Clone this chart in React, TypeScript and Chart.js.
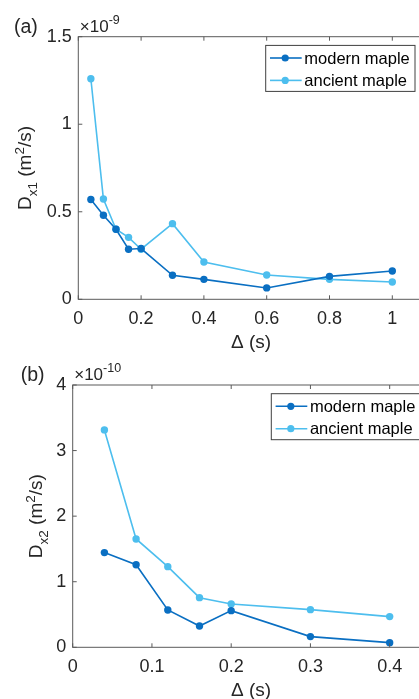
import { useEffect, useRef } from "react";
import { Chart, registerables } from "chart.js";

Chart.register(...registerables);

const FONT = "'Liberation Sans', Arial, Helvetica, sans-serif";
const AXIS_COLOR = "#5a5a5a";
const TEXT_COLOR = "#262626";

const seriesNames = ["modern maple", "ancient maple"];
const seriesColors = ["#0a6fc2", "#4dbeee"];

// Panel (a): Dx1 in units of 1e-9 m^2/s
const deltaA = [0.04, 0.08, 0.12, 0.16, 0.2, 0.3, 0.4, 0.6, 0.8, 1.0];
const modernA = [0.57, 0.48, 0.4, 0.286, 0.29, 0.137, 0.114, 0.065, 0.131, 0.162];
const ancientA = [1.26, 0.573, 0.4, 0.354, 0.286, 0.432, 0.213, 0.139, 0.114, 0.099];
const xTicksA = [0, 0.2, 0.4, 0.6, 0.8, 1];
const yTicksA = [0, 0.5, 1, 1.5];

// Panel (b): Dx2 in units of 1e-10 m^2/s
const deltaB = [0.04, 0.08, 0.12, 0.16, 0.2, 0.3, 0.4];
const modernB = [1.444, 1.26, 0.569, 0.325, 0.559, 0.163, 0.071];
const ancientB = [3.315, 1.652, 1.23, 0.757, 0.661, 0.574, 0.468];
const xTicksB = [0, 0.1, 0.2, 0.3, 0.4];
const yTicksB = [0, 1, 2, 3, 4];

type Seg = { text: string; size: number; dy: number };

function drawRich(ctx: CanvasRenderingContext2D, segs: Seg[], x: number, y: number, centered: boolean) {
  ctx.textAlign = "left";
  ctx.textBaseline = "alphabetic";
  const widths = segs.map((s) => {
    ctx.font = `${s.size}px ${FONT}`;
    return ctx.measureText(s.text).width;
  });
  const total = widths.reduce((a, b) => a + b, 0);
  let cx = centered ? x - total / 2 : x;
  segs.forEach((s, i) => {
    ctx.font = `${s.size}px ${FONT}`;
    ctx.fillText(s.text, cx, y + s.dy);
    cx += widths[i];
  });
}

type PanelOpts = {
  label: string;
  labelX: number;
  expo: string;
  sub: string;
  yTitleX: number;
  xTickValues: number[];
  yTickValues: number[];
};

const decorPlugin = {
  id: "panelDecor",
  afterDraw(chart: any) {
    const o: PanelOpts = chart.options.plugins.panelDecor;
    const ctx: CanvasRenderingContext2D = chart.ctx;
    const { left, right, top, bottom } = chart.chartArea;
    const xs = chart.scales.x;
    const ys = chart.scales.y;
    ctx.save();

    // axes box with inward ticks
    ctx.strokeStyle = AXIS_COLOR;
    ctx.lineWidth = 1;
    ctx.strokeRect(left, top, right - left, bottom - top);
    const tl = 4;
    ctx.beginPath();
    o.xTickValues.forEach((v) => {
      const px = xs.getPixelForValue(v);
      ctx.moveTo(px, bottom);
      ctx.lineTo(px, bottom - tl);
      ctx.moveTo(px, top);
      ctx.lineTo(px, top + tl);
    });
    o.yTickValues.forEach((v) => {
      const py = ys.getPixelForValue(v);
      ctx.moveTo(left, py);
      ctx.lineTo(left + tl, py);
      ctx.moveTo(right, py);
      ctx.lineTo(right - tl, py);
    });
    ctx.stroke();

    ctx.fillStyle = TEXT_COLOR;

    // panel label
    ctx.font = `19.5px ${FONT}`;
    ctx.textAlign = "left";
    ctx.textBaseline = "alphabetic";
    ctx.fillText(o.label, o.labelX, top - 4);

    // exponent multiplier
    drawRich(
      ctx,
      [
        { text: "\u00d710", size: 17, dy: 0 },
        { text: o.expo, size: 12.5, dy: -8.5 },
      ],
      left + 1.5,
      top - 4.6,
      false
    );

    // x title
    ctx.font = `19px ${FONT}`;
    ctx.textAlign = "center";
    ctx.fillText("\u0394 (s)", (left + right) / 2, bottom + 48.5);

    // y title (rotated)
    ctx.save();
    ctx.translate(o.yTitleX, (top + bottom) / 2);
    ctx.rotate(-Math.PI / 2);
    drawRich(
      ctx,
      [
        { text: "D", size: 19, dy: 0 },
        { text: o.sub, size: 13.5, dy: 5.5 },
        { text: " (m", size: 19, dy: 0 },
        { text: "2", size: 13.5, dy: -7.5 },
        { text: "/s)", size: 19, dy: 0 },
      ],
      0,
      0,
      true
    );
    ctx.restore();

    // legend
    const lw = 149.3;
    const lh = 46;
    const lx = right - 8.7 - lw;
    const ly = top + 8.7;
    ctx.fillStyle = "#ffffff";
    ctx.fillRect(lx, ly, lw, lh);
    ctx.strokeStyle = "#404040";
    ctx.lineWidth = 1;
    ctx.strokeRect(lx, ly, lw, lh);
    chart.data.datasets.forEach((ds: any, i: number) => {
      const cy = ly + 12.6 + i * 22.4;
      ctx.strokeStyle = ds.borderColor;
      ctx.lineWidth = 1.6;
      ctx.beginPath();
      ctx.moveTo(lx + 4.3, cy);
      ctx.lineTo(lx + 36, cy);
      ctx.stroke();
      ctx.fillStyle = ds.borderColor;
      ctx.beginPath();
      ctx.arc(lx + 19.5, cy, 3.6, 0, Math.PI * 2);
      ctx.fill();
      ctx.fillStyle = "#000000";
      ctx.font = `16.5px ${FONT}`;
      ctx.textAlign = "left";
      ctx.textBaseline = "middle";
      ctx.fillText(ds.label, lx + 38.6, cy + 1);
    });

    ctx.restore();
  },
};

type PanelProps = {
  top: number;
  height: number;
  areaLeft: number;
  areaTop: number;
  areaRight: number;
  areaBottom: number;
  delta: number[];
  modern: number[];
  ancient: number[];
  xMax: number;
  yMax: number;
  xTickValues: number[];
  yTickValues: number[];
  label: string;
  labelX: number;
  expo: string;
  sub: string;
  yTitleX: number;
};

const CANVAS_W = 440;
const X_AXIS_H = 40;

function Panel(p: PanelProps) {
  const ref = useRef<HTMLCanvasElement>(null);

  useEffect(() => {
    if (!ref.current) return;
    const mk = (vals: number[]) => p.delta.map((x, i) => ({ x, y: vals[i] }));
    const chart = new Chart(ref.current, {
      type: "line",
      data: {
        datasets: [p.modern, p.ancient].map((vals, i) => ({
          label: seriesNames[i],
          data: mk(vals),
          borderColor: seriesColors[i],
          backgroundColor: seriesColors[i],
          pointBackgroundColor: seriesColors[i],
          pointBorderWidth: 0,
          pointRadius: 3.7,
          borderWidth: 1.6,
          tension: 0,
          fill: false,
        })),
      },
      options: {
        responsive: false,
        animation: false,
        devicePixelRatio: 1,
        layout: {
          padding: {
            left: 0,
            top: p.areaTop,
            right: CANVAS_W - p.areaRight,
            bottom: p.height - p.areaBottom - X_AXIS_H,
          },
        },
        plugins: {
          legend: { display: false },
          tooltip: { enabled: false },
          panelDecor: {
            label: p.label,
            labelX: p.labelX,
            expo: p.expo,
            sub: p.sub,
            yTitleX: p.yTitleX,
            xTickValues: p.xTickValues,
            yTickValues: p.yTickValues,
          },
        } as any,
        scales: {
          x: {
            type: "linear",
            min: 0,
            max: p.xMax,
            grid: { display: false, drawTicks: false },
            border: { display: false },
            afterBuildTicks: (s: any) => {
              s.ticks = p.xTickValues.map((v) => ({ value: v }));
            },
            afterFit: (s: any) => {
              s.height = X_AXIS_H;
            },
            ticks: {
              padding: 9,
              color: TEXT_COLOR,
              font: { family: FONT, size: 18, lineHeight: 1.2 },
              maxRotation: 0,
              callback: (v: any) => String(v),
            },
          },
          y: {
            type: "linear",
            min: 0,
            max: p.yMax,
            grid: { display: false, drawTicks: false },
            border: { display: false },
            afterBuildTicks: (s: any) => {
              s.ticks = p.yTickValues.map((v) => ({ value: v }));
            },
            afterFit: (s: any) => {
              s.width = p.areaLeft;
            },
            ticks: {
              padding: 6.5,
              color: TEXT_COLOR,
              font: { family: FONT, size: 18 },
              callback: (v: any) => String(v),
            },
          },
        },
      },
      plugins: [decorPlugin],
    });
    return () => chart.destroy();
  }, []);

  return (
    <div style={{ position: "absolute", left: 0, top: p.top, width: CANVAS_W, height: p.height }}>
      <canvas ref={ref} width={CANVAS_W} height={p.height} style={{ display: "block" }} />
    </div>
  );
}

export default function App() {
  return (
    <div
      style={{
        position: "absolute",
        left: 0,
        top: 0,
        width: 419,
        height: 699,
        overflow: "hidden",
        background: "#ffffff",
      }}
    >
      <Panel
        top={0}
        height={362}
        areaLeft={78.3}
        areaTop={36.7}
        areaRight={423.7}
        areaBottom={299.3}
        delta={deltaA}
        modern={modernA}
        ancient={ancientA}
        xMax={1.1}
        yMax={1.5}
        xTickValues={xTicksA}
        yTickValues={yTicksA}
        label="(a)"
        labelX={14}
        expo="-9"
        sub="x1"
        yTitleX={31}
      />
      <Panel
        top={362}
        height={337}
        areaLeft={72.7}
        areaTop={23}
        areaRight={429.3}
        areaBottom={285.3}
        delta={deltaB}
        modern={modernB}
        ancient={ancientB}
        xMax={0.45}
        yMax={4}
        xTickValues={xTicksB}
        yTickValues={yTicksB}
        label="(b)"
        labelX={20.7}
        expo="-10"
        sub="x2"
        yTitleX={42}
      />
    </div>
  );
}
